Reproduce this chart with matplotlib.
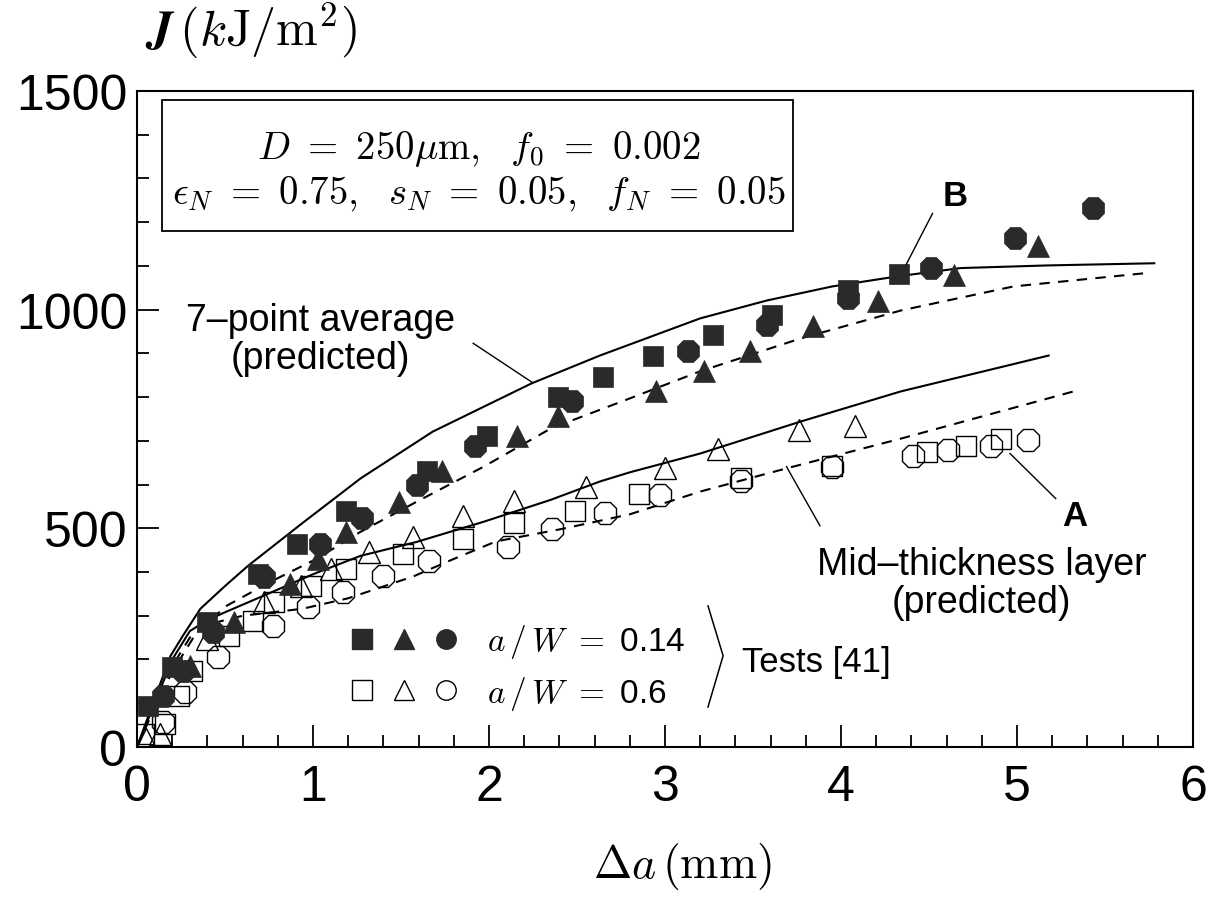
import matplotlib
matplotlib.use("Agg")
import matplotlib.pyplot as plt
from matplotlib.legend_handler import HandlerTuple
from matplotlib.lines import Line2D
from matplotlib.patches import Rectangle
from matplotlib.ticker import MultipleLocator

plt.rcParams['font.family'] = ['Liberation Sans', 'DejaVu Sans']
plt.rcParams['mathtext.fontset'] = 'cm'

# ---- predicted curves -------------------------------------------------
avg_x = [0, 0.1, 0.19, 0.26, 0.36, 0.5, 0.63, 0.94, 1.27, 1.68, 2.24, 2.63,
         3.2, 3.58, 3.95, 4.32, 4.68, 5.17, 5.78]
avg_y = [0, 110, 208, 254, 316, 368, 414, 512, 614, 721, 831, 895,
         980, 1021, 1053, 1076, 1095, 1101, 1106]

avg_dash_x = [0, 0.1, 0.2, 0.34, 0.51, 0.76, 1.02, 1.27, 1.59, 1.97, 2.35,
              2.80, 3.20, 3.77, 4.34, 4.98, 5.72]
avg_dash_y = [0, 90, 172, 263, 323, 378, 430, 492, 561, 641, 728,
              797, 859, 934, 998, 1053, 1083]

mid_x = [0, 0.1, 0.2, 0.3, 0.4, 0.5, 0.72, 1.0, 1.27, 1.59, 1.97, 2.35,
         2.63, 2.80, 3.20, 3.77, 4.34, 5.18]
mid_y = [0, 100, 200, 265, 290, 308, 346, 395, 437, 469, 515, 565,
         607, 628, 671, 744, 813, 895]

mid_dash_x = [0, 0.1, 0.2, 0.3, 0.4, 0.6, 0.94, 1.2, 1.57, 1.8, 2.04, 2.42,
              2.80, 3.2, 3.69, 4.34, 5.34]
mid_dash_y = [0, 95, 185, 250, 280, 300, 316, 340, 390, 430, 470, 499,
              532, 584, 637, 705, 815]

# ---- test data, a/W = 0.14 (filled) ------------------------------------
sq14_x = [0.06, 0.20, 0.40, 0.69, 0.91, 1.19, 1.65, 1.99, 2.39, 2.65, 2.93,
          3.27, 3.61, 4.04, 4.33]
sq14_y = [94, 183, 286, 396, 465, 540, 630, 712, 801, 847, 893,
          941, 987, 1044, 1081]
tri14_x = [0.30, 0.55, 0.87, 1.03, 1.19, 1.49, 1.73, 2.16, 2.39, 2.95, 3.22,
           3.48, 3.84, 4.21, 4.64, 5.12]
tri14_y = [185, 286, 373, 430, 492, 561, 632, 710, 756, 815, 859,
           905, 962, 1019, 1079, 1145]
cir14_x = [0.15, 0.26, 0.43, 0.72, 1.04, 1.28, 1.59, 1.92, 2.47, 3.13, 3.58,
           4.04, 4.51, 4.99, 5.43]
cir14_y = [117, 174, 263, 389, 465, 524, 598, 689, 792, 905, 964,
           1026, 1095, 1163, 1232]

# ---- test data, a/W = 0.6 (open) ---------------------------------------
sq6_x = [0.04, 0.16, 0.24, 0.31, 0.52, 0.66, 0.78, 0.99, 1.19, 1.51, 1.85,
         2.14, 2.49, 2.85, 3.43, 3.95, 4.49, 4.71, 4.91]
sq6_y = [30, 53, 117, 174, 254, 288, 332, 369, 408, 442, 476,
         511, 540, 579, 614, 643, 675, 689, 705]
tri6_x = [0.05, 0.13, 0.40, 0.72, 0.93, 1.10, 1.32, 1.57, 1.85, 2.14, 2.55,
          3.00, 3.30, 3.76, 4.08]
tri6_y = [18, 30, 247, 332, 369, 408, 446, 481, 527, 563, 595,
          637, 682, 724, 735]
cir6_x = [0.15, 0.27, 0.46, 0.77, 0.97, 1.17, 1.40, 1.66, 2.11, 2.36, 2.66,
          2.97, 3.43, 3.95, 4.41, 4.61, 4.85, 5.06]
cir6_y = [57, 126, 206, 277, 321, 355, 392, 426, 458, 499, 534,
          575, 608, 640, 666, 678, 689, 701]

FILL = '#2a2a2a'

fig = plt.figure(figsize=(12.17, 9.04), dpi=100)
ax = fig.add_axes([0.1126, 0.1726, 0.8677, 0.7257])

# curves
ax.plot(avg_x, avg_y, '-', color='k', lw=1.5)
ax.plot(avg_dash_x, avg_dash_y, color='k', lw=1.5, ls=(0, (5, 4)))
ax.plot(mid_x, mid_y, '-', color='k', lw=1.5)
ax.plot(mid_dash_x, mid_dash_y, color='k', lw=1.5, ls=(0, (5, 4)))

# open markers
opn = dict(ls='none', mfc='none', mec='k', mew=1.0)
ax.plot(sq6_x, sq6_y, 's', ms=15, **opn)
ax.plot(tri6_x, tri6_y, '^', ms=16, **opn)
ax.plot(cir6_x, cir6_y, '8', ms=17, **opn)

# filled markers
fil = dict(ls='none', mfc=FILL, mec=FILL, mew=0.5)
ax.plot(sq14_x, sq14_y, 's', ms=15, **fil)
ax.plot(tri14_x, tri14_y, '^', ms=16, **fil)
ax.plot(cir14_x, cir14_y, '8', ms=17, **fil)

ax.set_xlim(0, 6)
ax.set_ylim(0, 1500)
ax.xaxis.set_major_locator(MultipleLocator(1))
ax.xaxis.set_minor_locator(MultipleLocator(0.2))
ax.yaxis.set_major_locator(MultipleLocator(500))
ax.yaxis.set_minor_locator(MultipleLocator(100))
ax.tick_params(which='major', direction='in', length=16, width=1.3,
               labelsize=36)
ax.tick_params(which='minor', direction='in', length=8.5, width=1.3)
ax.tick_params(axis='x', pad=12)
ax.tick_params(axis='y', pad=7)
for sp in ax.spines.values():
    sp.set_linewidth(1.5)

# parameter box
ax.add_patch(Rectangle((0.142, 1179), 3.585, 300, fill=False, lw=1.3,
                       color='k'))
ax.text(1.94, 1370, r'$D\ =\ 250\mu\mathrm{m},\ \ f_0\ =\ 0.002$',
        fontsize=28, ha='center', va='center')
ax.text(1.94, 1267,
        r'$\epsilon_N\ =\ 0.75,\ \ s_N\ =\ 0.05,\ \ f_N\ =\ 0.05$',
        fontsize=28, ha='center', va='center')

# curve labels
ax.text(1.04, 933, '7\u2013point average\n(predicted)', fontsize=27,
        ha='center', va='center', linespacing=1.05)
ax.plot([1.91, 2.244], [923, 834], color='k', lw=1)
ax.text(4.80, 375, 'Mid\u2013thickness layer\n(predicted)', fontsize=27,
        ha='center', va='center', linespacing=1.05)
ax.plot([3.69, 3.88], [641, 506], color='k', lw=1)

ax.text(4.65, 1260, 'B', fontsize=25, fontweight='bold', ha='center',
        va='center')
ax.plot([4.52, 4.37], [1220, 1103], color='k', lw=1)
ax.text(5.33, 529, 'A', fontsize=25, fontweight='bold', ha='center',
        va='center')
ax.plot([5.22, 4.96], [568, 671], color='k', lw=1)

# legend for the tests
h14 = tuple(Line2D([], [], marker=m, ls='none', ms=14, mfc=FILL, mec=FILL)
            for m in ('s', '^', 'o'))
h6 = tuple(Line2D([], [], marker=m, ls='none', ms=14, mfc='none', mec='k',
                  mew=1.0) for m in ('s', '^', 'o'))
ax.legend([h14, h6], [r'$a\,/\,W\ =\ $0.14', r'$a\,/\,W\ =\ $0.6'],
          handler_map={tuple: HandlerTuple(ndivide=None, pad=0.65)},
          loc='upper left', bbox_to_anchor=(0.204, 0.19), frameon=False,
          fontsize=24, handlelength=3.1, handletextpad=0.95,
          labelspacing=0.4, borderpad=0, borderaxespad=0)
# grouping bracket beside the legend
ax.plot([0.5407, 0.5550, 0.5407], [0.215, 0.139, 0.061], color='k', lw=1.1,
        transform=ax.transAxes, clip_on=False)
ax.text(3.44, 195, 'Tests [41]', fontsize=25, ha='left', va='center')

# axis titles
fig.text(0.206, 0.966, r'$\boldsymbol{J}\,(k\mathrm{J/m}^2)$', fontsize=36,
         ha='center', va='center')
fig.text(0.561, 0.042, r'$\Delta a\,(\mathrm{mm})$', fontsize=33,
         ha='center', va='center')

fig.savefig('out.png', dpi=100)
